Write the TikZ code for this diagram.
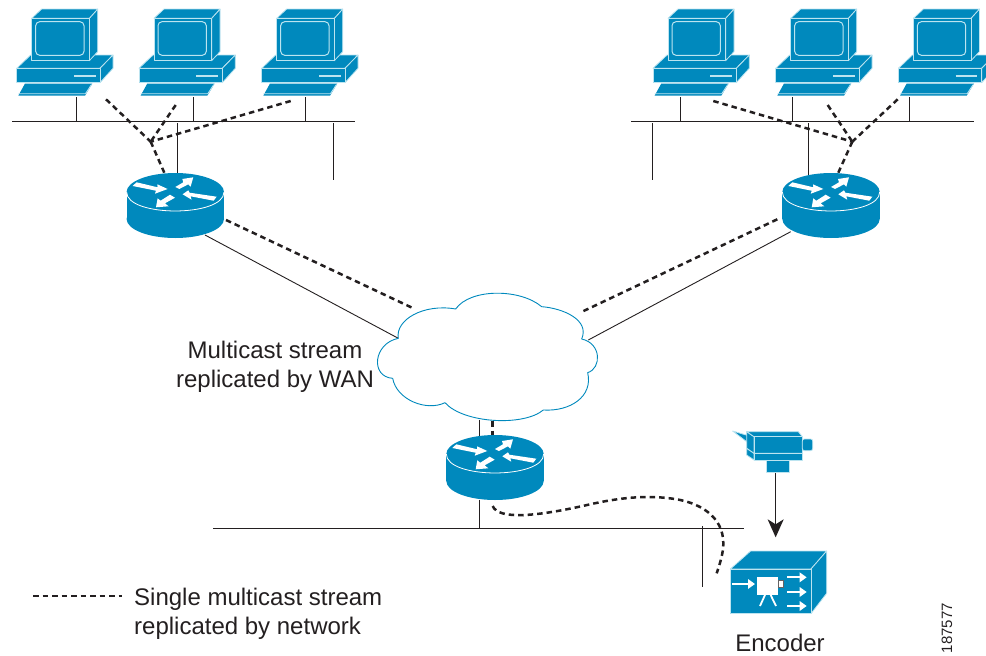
\documentclass[tikz,border=0pt]{standalone}
\usepackage{xcolor}
\usepackage{fontspec}
\setmainfont{Liberation Sans}
\usetikzlibrary{arrows.meta}
\definecolor{iconblue}{HTML}{0089BD}
\definecolor{iconlight}{HTML}{BCE4F0}
\definecolor{inkdark}{HTML}{231F20}
\tikzset{
  wire/.style={draw=inkdark,line width=.9pt},
  dashwire/.style={draw=inkdark,line width=2.5pt,dash pattern=on 5.5pt off 4pt},
  icon/.style={fill=iconblue,draw=iconlight,line width=.8pt,line join=round},
  thinflow/.style={draw=white,line width=1.8pt,-{Triangle[width=9.5pt,length=7pt]}},
  caption/.style={text=inkdark,font=\fontsize{24}{29}\selectfont,inner sep=0pt},
  pcunit/.pic={
    \path[icon] (16.7,68.3) -- (30.7,55) -- (113,55) -- (100,68.3) -- cycle;
    \path[icon] (100,68.3) -- (113,55) -- (113,68.3) -- (100,82.7) -- cycle;
    \path[icon] (16.7,68.3) rectangle (100,82.7);
    \draw[iconlight,line width=1.4pt] (74,76) -- (95.7,76);
    \path[fill=iconblue] (25,83.5) -- (92.3,83.5) -- (85,95.7) -- (18.3,95.7) -- cycle;
    \draw[iconlight,line width=.9pt] (18.3,93.7) -- (85.5,93.7) -- (91.5,84.5);
    \path[icon] (89.3,18.3) -- (97.7,9) -- (97.7,51.7) -- (89.3,60.7) -- cycle;
    \path[icon] (31.7,18.3) -- (41.7,9) -- (97.7,9) -- (89.3,18.3) -- cycle;
    \path[icon] (31.7,18.3) rectangle (89.3,60.7);
    \draw[iconlight,line width=1pt,rounded corners=4pt] (35.7,21.7) rectangle (84,55.3);
  },
  routerunit/.pic={
    \fill[iconblue] (0,27) ellipse [x radius=48.7,y radius=19];
    \fill[iconblue] (-48.7,0) rectangle (48.7,27);
    \fill[iconblue] (0,0) ellipse [x radius=48.7,y radius=19];
    \draw[white,line width=.8pt] (-48.7,0) .. controls (-48.7,25.3) and (48.7,25.3) .. (48.7,0);
    \fill[white] (-42.7,-6) -- (-38.7,-9.7) -- (-17.7,-4.7) -- (-18,-7.7) -- (-7.7,-3) -- (-20.3,1.7) -- (-19.3,-1.3) -- cycle;
    \fill[white] (0,-5) -- (8,-9.7) -- (7,-13) -- (18,-14.7) -- (15.3,-5.3) -- (13,-7.7) -- (4,-3) -- cycle;
    \fill[white] (7.3,2.3) -- (13,-1.7) -- (14.3,.7) -- (41.3,4.7) -- (38.3,8.7) -- (15.3,4.3) -- (16.3,7.7) -- cycle;
    \fill[white] (-19.3,15.3) -- (-17.7,6.3) -- (-14.7,8.7) -- (-5.3,2.7) -- (-.3,5.7) -- (-10.3,11.3) -- (-6.7,14.3) -- cycle;
  }
}
\begin{document}
\begin{tikzpicture}[x=1pt,y=-1pt]
\useasboundingbox (0,0) rectangle (986,656);

% workstations
\foreach \x in {0,122.3,245,636.3,759,881.7}
  \pic at (\x,0) {pcunit};

% left and right segments
\coordinate (lanal) at (12,121.3);
\coordinate (lanar) at (355,121.3);
\coordinate (lanbl) at (631,121.3);
\coordinate (lanbr) at (974,121.3);
\draw[wire] (lanal) -- (lanar);
\draw[wire] (lanbl) -- (lanbr);
\foreach \n/\x in {pa/76,pb/193.3,pc/305,pd/680.3,pe/792.3,pf/909.7}{
  \coordinate (\n) at (\x,97);
  \draw[wire] (\n) -- (\n |- lanal);
}
\coordinate (taila) at (333.7,123);
\coordinate (tailaend) at (333.7,180);
\coordinate (tailb) at (652,123);
\coordinate (tailbend) at (652,180);
\draw[wire] (taila) -- (tailaend);
\draw[wire] (tailb) -- (tailbend);

% routers
\coordinate (rleft) at (175.3,192);
\coordinate (rright) at (831,192);
\coordinate (rlow) at (495,454);
\pic at (rleft) {routerunit};
\pic at (rright) {routerunit};
\pic at (rlow) {routerunit};
\coordinate (upa) at (177.3,123);
\coordinate (upaend) at (177.3,173);
\coordinate (upb) at (808.3,123);
\coordinate (upbend) at (808.3,175);
\draw[wire] (upa) -- (upaend);
\draw[wire] (upb) -- (upbend);

% stream to the workstations
\coordinate (joina) at (150.7,141.7);
\coordinate (joinb) at (852.3,141.7);
\coordinate (da) at (106,99.3);
\coordinate (db) at (175.7,105);
\coordinate (dc) at (290.7,101);
\coordinate (dd) at (713.3,101);
\coordinate (de) at (827.7,105);
\coordinate (df) at (897.7,99.3);
\coordinate (dra) at (164.3,172.7);
\coordinate (drb) at (838.3,172.7);
\draw[dashwire] (da) -- (joina);
\draw[dashwire] (db) -- (joina);
\draw[dashwire] (dc) -- (joina);
\draw[dashwire] (joina) -- (dra);
\draw[dashwire] (dd) -- (joinb);
\draw[dashwire] (de) -- (joinb);
\draw[dashwire] (df) -- (joinb);
\draw[dashwire] (joinb) -- (drb);

% links to the WAN
\coordinate (wana) at (205,235);
\coordinate (wanb) at (398.3,338.3);
\coordinate (wanc) at (790.7,231.7);
\coordinate (wand) at (588.3,340);
\coordinate (wane) at (226,220);
\coordinate (wanf) at (413.3,308.3);
\coordinate (wang) at (777.3,219.3);
\coordinate (wanh) at (580,312.7);
\draw[wire] (wana) -- (wanb);
\draw[wire] (wanc) -- (wand);
\draw[dashwire] (wane) -- (wanf);
\draw[dashwire] (wang) -- (wanh);

% WAN cloud
\begin{scope}[shift={(360,280)},scale=1/3]
\filldraw[fill=white,draw=iconblue,line width=.9pt,line join=round]
  (115,175) .. controls (105,120) and (190,70) .. (287,87)
  .. controls (330,25) and (480,25) .. (545,80)
  .. controls (610,85) and (690,120) .. (665,177)
  .. controls (725,190) and (725,265) .. (683,278)
  .. controls (700,350) and (630,395) .. (550,390)
  .. controls (490,440) and (310,430) .. (255,368)
  .. controls (200,395) and (110,360) .. (98,295)
  .. controls (30,290) and (40,190) .. (115,175) -- cycle;
\end{scope}

% lower router and segment
\coordinate (cloudl) at (479.3,420);
\coordinate (rlowl) at (479.3,436);
\coordinate (cloudd) at (492.7,421);
\coordinate (rlowd) at (492.7,435);
\draw[wire] (cloudl) -- (rlowl);
\draw[dashwire] (cloudd) -- (rlowd);
\coordinate (lancl) at (213,528.7);
\coordinate (lancr) at (744,528.7);
\coordinate (rlows) at (479.3,500);
\coordinate (drop) at (702.3,526);
\coordinate (dropend) at (702.3,586.7);
\draw[wire] (lancl) -- (lancr);
\draw[wire] (rlows) -- (rlows |- lancl);
\draw[wire] (drop) -- (dropend);

% camera, encoder and stream
\begin{scope}[shift={(430,420)},scale=1/3]
\coordinate (dstart) at (188,258);
\coordinate (dend) at (860,460);
\draw[dashwire] (dstart) .. controls (205,300) and (320,290) .. (480,253)
  .. controls (560,235) and (640,225) .. (720,235)
  .. controls (810,245) and (880,290) .. (880,370)
  .. controls (880,400) and (870,430) .. (dend);
\path[icon] (908,33) -- (965,50) -- (963,75) -- cycle;
\path[icon] (950,35) -- (972,50) -- (972,120) -- (950,105) -- cycle;
\path[icon] (950,35) -- (1105,35) -- (1117,50) -- (972,50) -- cycle;
\path[icon] (972,50) rectangle (1117,120);
\draw[iconlight,line width=1pt] (950,85) -- (972,100) -- (1117,100);
\path[icon,rounded corners=2pt] (1117,57) rectangle (1148,92);
\path[icon] (1010,122) rectangle (1077,157);
\path[icon] (901,447) -- (962,393) -- (1190,393) -- (1143,447) -- cycle;
\path[icon] (1143,447) -- (1190,393) -- (1190,520) -- (1143,581) -- cycle;
\path[icon] (901,447) rectangle (1143,581);
\fill[white] (981,472) rectangle (1044,525);
\filldraw[fill=white,draw=inkdark!70,line width=.7pt] (1044,480) rectangle (1061,502);
\draw[white,line width=1.8pt] (1005,525) -- (990,558);
\draw[white,line width=1.8pt] (1022,525) -- (1038,558);
\draw[thinflow] (907,492) -- (975,492);
\draw[thinflow] (1072,472) -- (1130,472);
\draw[thinflow] (1072,516) -- (1130,516);
\draw[thinflow] (1072,558) -- (1130,558);
\coordinate (camout) at (1037,160);
\coordinate (encin) at (1037,352);
\draw[draw=inkdark,line width=1.1pt,-{Stealth[width=16pt,length=18pt,inset=5pt]}] (camout) -- (encin);
\end{scope}

% texts
\node[caption,align=center] (wantext) at (275,366.5) {Multicast stream\\replicated by WAN};
\coordinate (keya) at (33,596);
\coordinate (keyb) at (122,596);
\draw[dashwire] (keya) -- (keyb);
\node[caption,align=left,anchor=west] (keytext) at (134,613.5) {Single multicast stream\\replicated by network};
\node[caption] (enctext) at (780,642.5) {Encoder};
\node[text=inkdark,font=\fontsize{15}{15}\selectfont,inner sep=0pt,rotate=90] (figid) at (947,628) {187577};
\end{tikzpicture}
\end{document}
